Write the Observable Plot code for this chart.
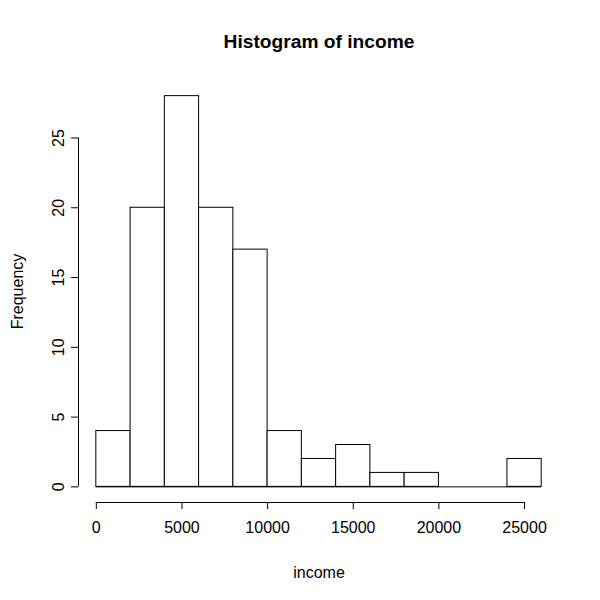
<!DOCTYPE html>
<html>
<head>
<meta charset="utf-8">
<script src="https://cdn.jsdelivr.net/npm/d3@7"></script>
<script src="https://cdn.jsdelivr.net/npm/@observablehq/plot@0.6"></script>
<style>
  html, body { margin: 0; padding: 0; background: white; }
  svg { display: block; }
</style>
</head>
<body>
<div id="chart"></div>
<script>
// Histogram data (bin starts, bin width, counts)
const binStarts = [0, 2000, 4000, 6000, 8000, 10000, 12000, 14000, 16000, 18000, 20000, 22000, 24000];
const binWidth = 2000;
const counts = [4, 20, 28, 20, 17, 4, 2, 3, 1, 1, 0, 0, 2];
const xTicks = [0, 5000, 10000, 15000, 20000, 25000];
const yTicks = [0, 5, 10, 15, 20, 25];
const title = "Histogram of income";
const xLabel = "income";
const yLabel = "Frequency";

const data = binStarts.map((s, i) => ({x1: s, x2: s + binWidth, count: counts[i]}));

// R-style 4% axis extension
const xMin = d3.min(binStarts), xMax = d3.max(binStarts) + binWidth;
const yMax = d3.max(counts);
const xPad = (xMax - xMin) * 0.04, yPad = yMax * 0.04;

const chart = Plot.plot({
  width: 600,
  height: 600,
  marginLeft: 78,
  marginRight: 41,
  marginTop: 80,
  marginBottom: 98,
  x: {domain: [xMin - xPad, xMax + xPad], axis: null},
  y: {domain: [-yPad, yMax + yPad], axis: null},
  style: {fontFamily: "'Liberation Sans', Arial, sans-serif", fontSize: "16px", background: "white", color: "black"},
  marks: [
    Plot.rectY(data, {x1: "x1", x2: "x2", y: "count", fill: "white", stroke: "black", strokeWidth: 1}),
    Plot.ruleY([0], {x1: xMin, x2: xMax, stroke: "black"}),
    // x axis
    Plot.ruleY([-yPad], {x1: xTicks[0], x2: xTicks[xTicks.length - 1], stroke: "black"}),
    Plot.axisX(xTicks, {anchor: "bottom", tickSize: 7, tickPadding: 12, tickFormat: d => String(d), label: null, fontSize: 16, stroke: "black", fill: "black"}),
    // y axis
    Plot.ruleX([xMin - xPad], {y1: yTicks[0], y2: yTicks[yTicks.length - 1], stroke: "black"}),
    Plot.axisY(yTicks, {anchor: "left", tickSize: 7, tickPadding: 8, tickRotate: -90, tickFormat: d => String(d), label: null, fontSize: 16, stroke: "black", fill: "black"}),
    // titles
    Plot.text([title], {frameAnchor: "top", dy: -39, text: d => d, fontWeight: "bold", fontSize: 19.2, fill: "black", lineAnchor: "middle"}),
    Plot.text([xLabel], {frameAnchor: "bottom", dy: 70, text: d => d, fontSize: 16, fill: "black", lineAnchor: "middle"}),
    Plot.text([yLabel], {frameAnchor: "left", dx: -61, rotate: -90, textAnchor: "middle", text: d => d, fontSize: 16, fill: "black", lineAnchor: "middle"})
  ]
});
document.getElementById("chart").append(chart);
</script>
</body>
</html>
